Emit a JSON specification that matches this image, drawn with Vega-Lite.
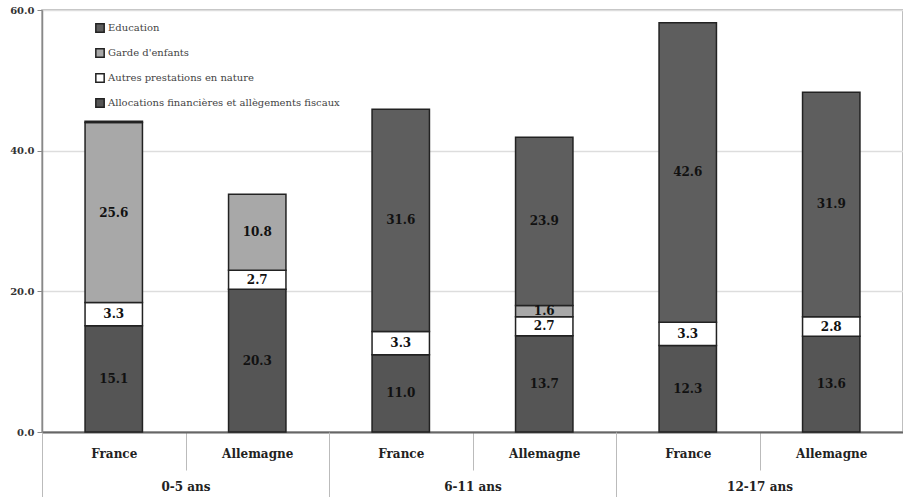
{
  "$schema": "https://vega.github.io/schema/vega-lite/v6.json",
  "width": 861,
  "height": 422,
  "autosize": "none",
  "padding": {"left": 42, "top": 10, "right": 0, "bottom": 65},
  "background": "white",
  "config": {"font": "DejaVu Serif, serif", "view": {"stroke": "#aaa", "strokeWidth": 1.5}},
  "data": {"values": [
    {"group": "0-5 ans", "key": "0-5 ans|France", "cat": "Allocations financières et allègements fiscaux", "ord": 1, "value": 15.1},
    {"group": "0-5 ans", "key": "0-5 ans|France", "cat": "Autres prestations en nature", "ord": 2, "value": 3.3},
    {"group": "0-5 ans", "key": "0-5 ans|France", "cat": "Garde d'enfants", "ord": 3, "value": 25.6},
    {"group": "0-5 ans", "key": "0-5 ans|France", "cat": "Education", "ord": 4, "value": 0.2},
    {"group": "0-5 ans", "key": "0-5 ans|Allemagne", "cat": "Allocations financières et allègements fiscaux", "ord": 1, "value": 20.3},
    {"group": "0-5 ans", "key": "0-5 ans|Allemagne", "cat": "Autres prestations en nature", "ord": 2, "value": 2.7},
    {"group": "0-5 ans", "key": "0-5 ans|Allemagne", "cat": "Garde d'enfants", "ord": 3, "value": 10.8},
    {"group": "6-11 ans", "key": "6-11 ans|France", "cat": "Allocations financières et allègements fiscaux", "ord": 1, "value": 11.0},
    {"group": "6-11 ans", "key": "6-11 ans|France", "cat": "Autres prestations en nature", "ord": 2, "value": 3.3},
    {"group": "6-11 ans", "key": "6-11 ans|France", "cat": "Education", "ord": 4, "value": 31.6},
    {"group": "6-11 ans", "key": "6-11 ans|Allemagne", "cat": "Allocations financières et allègements fiscaux", "ord": 1, "value": 13.7},
    {"group": "6-11 ans", "key": "6-11 ans|Allemagne", "cat": "Autres prestations en nature", "ord": 2, "value": 2.7},
    {"group": "6-11 ans", "key": "6-11 ans|Allemagne", "cat": "Garde d'enfants", "ord": 3, "value": 1.6},
    {"group": "6-11 ans", "key": "6-11 ans|Allemagne", "cat": "Education", "ord": 4, "value": 23.9},
    {"group": "12-17 ans", "key": "12-17 ans|France", "cat": "Allocations financières et allègements fiscaux", "ord": 1, "value": 12.3},
    {"group": "12-17 ans", "key": "12-17 ans|France", "cat": "Autres prestations en nature", "ord": 2, "value": 3.3},
    {"group": "12-17 ans", "key": "12-17 ans|France", "cat": "Education", "ord": 4, "value": 42.6},
    {"group": "12-17 ans", "key": "12-17 ans|Allemagne", "cat": "Allocations financières et allègements fiscaux", "ord": 1, "value": 13.6},
    {"group": "12-17 ans", "key": "12-17 ans|Allemagne", "cat": "Autres prestations en nature", "ord": 2, "value": 2.8},
    {"group": "12-17 ans", "key": "12-17 ans|Allemagne", "cat": "Education", "ord": 4, "value": 31.9}
  ]},
  "resolve": {"scale": {"x": "independent"}, "axis": {"x": "independent"}},
  "layer": [
    {
      "mark": {"type": "bar", "width": {"band": 0.4}, "stroke": "#222", "strokeWidth": 1.5},
      "encoding": {
        "x": {"field": "key", "type": "nominal", "sort": null,
          "scale": {"paddingInner": 0, "paddingOuter": 0},
          "axis": {"title": null, "labelExpr": "split(datum.value, '|')[1]", "labelAngle": 0,
            "tickBand": "extent", "tickSize": 38, "tickColor": "#bbb", "tickWidth": 1,
            "labelPadding": -22, "domainColor": "#666", "domainWidth": 2,
            "labelFont": "DejaVu Serif, serif", "labelFontWeight": "bold", "labelFontSize": 12, "labelColor": "#222"}},
        "y": {"field": "value", "type": "quantitative", "stack": "zero",
          "scale": {"domain": [0, 60], "nice": false},
          "axis": {"title": null, "values": [0, 20, 40, 60], "format": ".1f",
            "labelFont": "DejaVu Serif, serif", "labelFontWeight": "bold", "labelFontSize": 10, "labelColor": "#333",
            "grid": true, "gridColor": "#ddd", "gridWidth": 1.5, "domainColor": "#888", "domainWidth": 1.5,
            "tickColor": "#888", "tickSize": 5, "labelPadding": 3}},
        "color": {"field": "cat", "type": "nominal",
          "scale": {"domain": ["Education", "Garde d'enfants", "Autres prestations en nature", "Allocations financières et allègements fiscaux"],
            "range": ["#5e5e5e", "#a8a8a8", "#ffffff", "#555555"]},
          "legend": {"title": null, "orient": "none", "legendX": 53, "legendY": 13,
            "symbolType": "square", "symbolSize": 70, "symbolStrokeColor": "#222", "symbolStrokeWidth": 1.5,
            "labelFont": "DejaVu Serif, serif", "labelFontSize": 10, "labelColor": "#444", "labelLimit": 0,
            "rowPadding": 9, "labelOffset": 3}},
        "order": {"field": "ord", "type": "quantitative"}
      }
    },
    {
      "transform": [
        {"stack": "value", "groupby": ["key"], "sort": [{"field": "ord"}], "as": ["v0", "v1"]},
        {"calculate": "(datum.v0 + datum.v1) / 2", "as": "mid"},
        {"filter": "datum.value >= 1"}
      ],
      "mark": {"type": "text", "font": "DejaVu Serif, serif", "fontWeight": "bold", "fontSize": 12, "color": "#111"},
      "encoding": {
        "x": {"field": "key", "type": "nominal", "sort": null, "scale": {"paddingInner": 0, "paddingOuter": 0}, "axis": null},
        "y": {"field": "mid", "type": "quantitative"},
        "text": {"field": "value", "type": "quantitative", "format": ".1f"}
      }
    },
    {
      "mark": {"type": "rule", "opacity": 0},
      "encoding": {
        "x": {"field": "group", "type": "nominal", "sort": null, "scale": {"paddingInner": 0, "paddingOuter": 0},
          "axis": {"title": null, "orient": "bottom", "labelAngle": 0, "tickBand": "extent", "tickSize": 65,
            "tickColor": "#bbb", "tickWidth": 1, "labelPadding": -16, "domain": false,
            "labelFont": "DejaVu Serif, serif", "labelFontWeight": "bold", "labelFontSize": 12, "labelColor": "#222"}},
        "y": {"datum": 0, "type": "quantitative"}
      }
    }
  ]
}
